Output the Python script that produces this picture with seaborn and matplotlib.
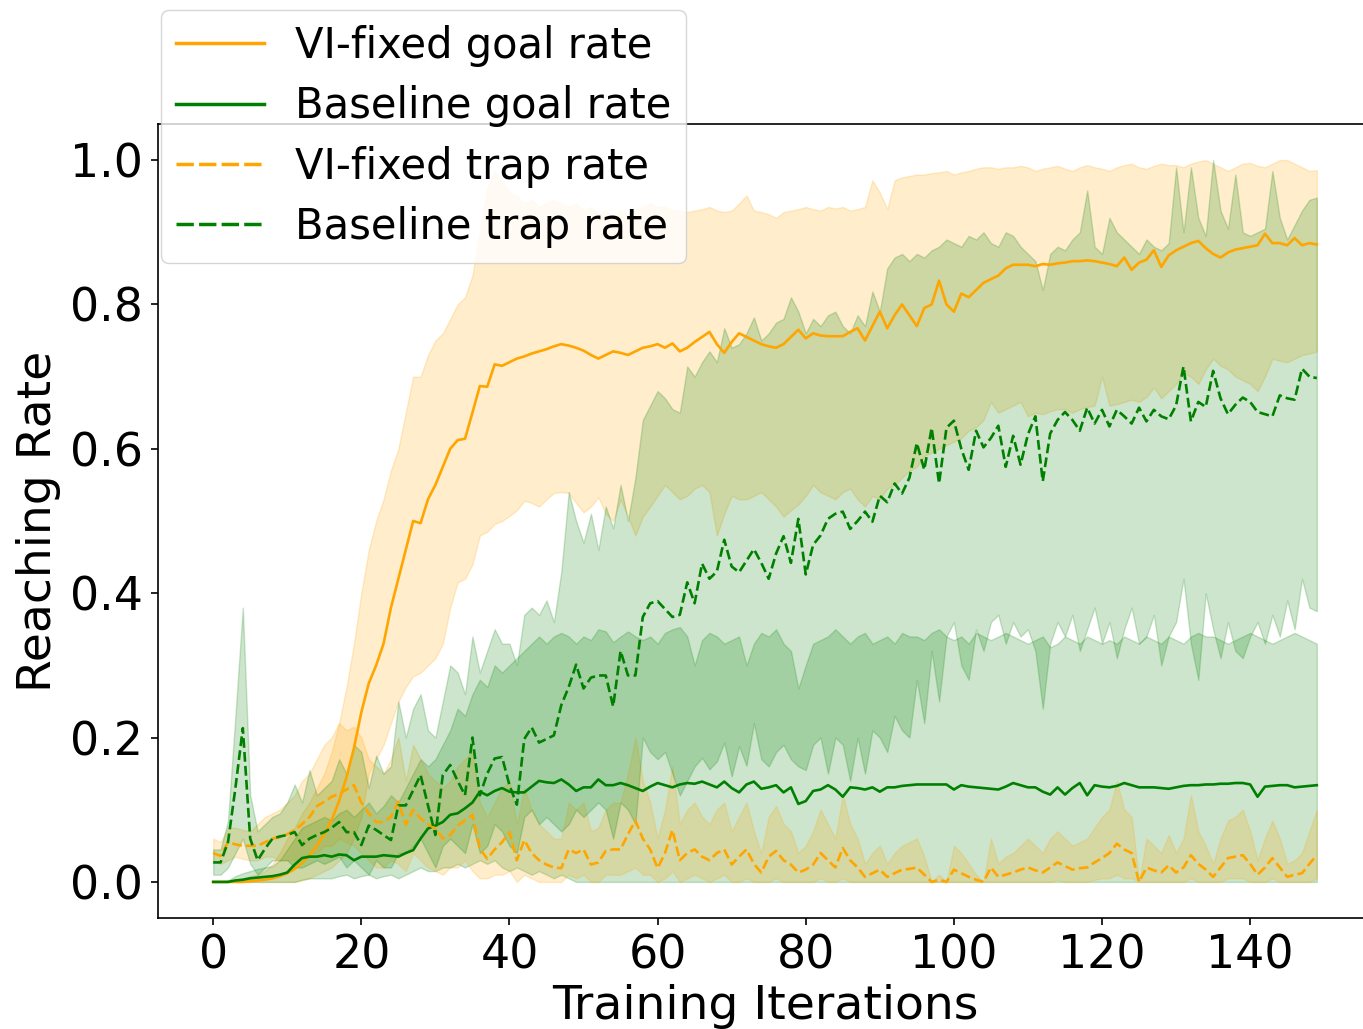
import numpy as np
import pandas as pd
import matplotlib
matplotlib.use("Agg")
import matplotlib.pyplot as plt
import seaborn as sns
from matplotlib.lines import Line2D

iterations = list(range(150))

vi_goal = [
    0.000, 0.000, 0.000, 0.000, 0.000, 0.001, 0.002, 0.003, 0.005, 0.008,
    0.012, 0.018, 0.026, 0.036, 0.050, 0.066, 0.086, 0.112, 0.145, 0.185,
    0.235, 0.275, 0.300, 0.330, 0.380, 0.420, 0.460, 0.500, 0.497, 0.530,
    0.550, 0.575, 0.600, 0.612, 0.614, 0.650, 0.687, 0.686, 0.717, 0.715,
    0.720, 0.725, 0.728, 0.732, 0.735, 0.738, 0.742, 0.745, 0.743, 0.740,
    0.736, 0.730, 0.725, 0.730, 0.735, 0.733, 0.730, 0.735, 0.740, 0.742,
    0.745, 0.740, 0.746, 0.735, 0.740, 0.748, 0.755, 0.762, 0.745, 0.733,
    0.748, 0.760, 0.755, 0.750, 0.745, 0.742, 0.740, 0.745, 0.755, 0.765,
    0.753, 0.760, 0.757, 0.756, 0.756, 0.756, 0.762, 0.767, 0.750, 0.770,
    0.790, 0.767, 0.785, 0.800, 0.785, 0.770, 0.795, 0.800, 0.833, 0.800,
    0.790, 0.815, 0.810, 0.820, 0.830, 0.835, 0.840, 0.850, 0.855, 0.855,
    0.855, 0.853, 0.856, 0.855, 0.857, 0.858, 0.860, 0.860, 0.861, 0.860,
    0.858, 0.856, 0.853, 0.865, 0.848, 0.858, 0.862, 0.875, 0.852, 0.868,
    0.875, 0.880, 0.885, 0.888, 0.878, 0.870, 0.865, 0.872, 0.876, 0.878,
    0.880, 0.882, 0.898, 0.885, 0.885, 0.882, 0.892, 0.882, 0.885, 0.883,
]
vi_goal_lo = [
    0.000, 0.000, 0.000, 0.000, 0.000, 0.000, 0.000, 0.000, 0.000, 0.000,
    0.000, 0.000, 0.002, 0.005, 0.010, 0.015, 0.020, 0.030, 0.040, 0.060,
    0.090, 0.150, 0.170, 0.190, 0.220, 0.250, 0.270, 0.285, 0.290, 0.300,
    0.310, 0.330, 0.380, 0.415, 0.420, 0.440, 0.480, 0.485, 0.496, 0.500,
    0.507, 0.515, 0.528, 0.525, 0.520, 0.530, 0.539, 0.540, 0.539, 0.525,
    0.512, 0.520, 0.533, 0.510, 0.500, 0.530, 0.506, 0.480, 0.506, 0.520,
    0.535, 0.550, 0.540, 0.530, 0.535, 0.545, 0.550, 0.540, 0.480, 0.510,
    0.535, 0.530, 0.530, 0.535, 0.540, 0.530, 0.520, 0.506, 0.515, 0.523,
    0.535, 0.550, 0.540, 0.535, 0.530, 0.540, 0.545, 0.530, 0.520, 0.535,
    0.530, 0.545, 0.550, 0.560, 0.570, 0.575, 0.590, 0.595, 0.600, 0.605,
    0.610, 0.615, 0.625, 0.630, 0.640, 0.665, 0.650, 0.655, 0.660, 0.665,
    0.645, 0.650, 0.648, 0.652, 0.655, 0.655, 0.650, 0.655, 0.658, 0.660,
    0.700, 0.660, 0.662, 0.665, 0.668, 0.665, 0.672, 0.685, 0.670, 0.680,
    0.690, 0.705, 0.700, 0.690, 0.710, 0.725, 0.715, 0.710, 0.700, 0.695,
    0.690, 0.680, 0.700, 0.725, 0.722, 0.720, 0.725, 0.730, 0.732, 0.735,
]
vi_goal_hi = [
    0.000, 0.000, 0.000, 0.002, 0.005, 0.008, 0.010, 0.015, 0.025, 0.040,
    0.060, 0.075, 0.095, 0.110, 0.130, 0.150, 0.180, 0.220, 0.270, 0.330,
    0.400, 0.460, 0.500, 0.530, 0.570, 0.600, 0.650, 0.700, 0.700, 0.730,
    0.750, 0.760, 0.780, 0.800, 0.810, 0.840, 0.900, 0.960, 0.985, 0.970,
    0.955, 0.950, 0.940, 0.945, 0.935, 0.940, 0.945, 0.940, 0.935, 0.940,
    0.930, 0.935, 0.925, 0.930, 0.920, 0.930, 0.925, 0.930, 0.935, 0.940,
    0.935, 0.935, 0.930, 0.930, 0.928, 0.930, 0.932, 0.935, 0.930, 0.928,
    0.930, 0.940, 0.951, 0.930, 0.928, 0.925, 0.920, 0.928, 0.930, 0.932,
    0.935, 0.932, 0.930, 0.935, 0.933, 0.935, 0.930, 0.932, 0.935, 0.972,
    0.955, 0.932, 0.972, 0.976, 0.978, 0.980, 0.980, 0.982, 0.983, 0.985,
    0.980, 0.983, 0.985, 0.988, 0.990, 0.990, 0.988, 0.990, 0.990, 0.992,
    0.990, 0.985, 0.988, 0.990, 0.992, 0.988, 0.985, 0.990, 0.993, 0.990,
    0.988, 0.985, 0.990, 0.993, 0.995, 0.990, 0.988, 0.992, 0.995, 0.993,
    0.993, 0.990, 0.995, 0.998, 1.000, 0.995, 0.990, 0.985, 0.990, 0.995,
    0.996, 0.992, 0.990, 0.995, 1.000, 1.000, 0.995, 0.990, 0.985, 0.986,
]

base_goal = [
    0.000, 0.000, 0.000, 0.002, 0.003, 0.005, 0.006, 0.007, 0.008, 0.010,
    0.013, 0.024, 0.033, 0.035, 0.035, 0.037, 0.035, 0.038, 0.037, 0.030,
    0.035, 0.035, 0.035, 0.037, 0.036, 0.035, 0.040, 0.044, 0.060, 0.074,
    0.078, 0.083, 0.093, 0.095, 0.102, 0.110, 0.125, 0.120, 0.126, 0.130,
    0.125, 0.124, 0.124, 0.132, 0.140, 0.138, 0.137, 0.142, 0.135, 0.126,
    0.131, 0.131, 0.142, 0.134, 0.134, 0.137, 0.134, 0.130, 0.126, 0.132,
    0.137, 0.134, 0.131, 0.135, 0.137, 0.136, 0.139, 0.135, 0.131, 0.139,
    0.130, 0.124, 0.135, 0.139, 0.129, 0.131, 0.134, 0.124, 0.131, 0.108,
    0.112, 0.126, 0.128, 0.134, 0.128, 0.118, 0.131, 0.130, 0.128, 0.131,
    0.125, 0.131, 0.131, 0.133, 0.134, 0.135, 0.135, 0.135, 0.135, 0.135,
    0.128, 0.134, 0.132, 0.131, 0.130, 0.129, 0.128, 0.132, 0.137, 0.134,
    0.131, 0.131, 0.125, 0.121, 0.131, 0.121, 0.130, 0.137, 0.120, 0.134,
    0.132, 0.131, 0.133, 0.137, 0.134, 0.131, 0.131, 0.131, 0.130, 0.129,
    0.131, 0.133, 0.134, 0.134, 0.135, 0.135, 0.136, 0.136, 0.137, 0.137,
    0.135, 0.118, 0.132, 0.133, 0.134, 0.134, 0.131, 0.132, 0.133, 0.134,
]
base_goal_lo = [
    0.000, 0.000, 0.000, 0.000, 0.000, 0.000, 0.000, 0.000, 0.000, 0.000,
    0.000, 0.000, 0.003, 0.005, 0.005, 0.005, 0.005, 0.008, 0.010, 0.005,
    0.008, 0.010, 0.005, 0.008, 0.010, 0.005, 0.010, 0.015, 0.020, 0.015,
    0.015, 0.020, 0.020, 0.025, 0.020, 0.025, 0.030, 0.025, 0.030, 0.020,
    0.015, 0.020, 0.015, 0.010, 0.015, 0.010, 0.005, 0.010, 0.005, 0.000,
    0.000, 0.000, 0.000, 0.000, 0.000, 0.000, 0.000, 0.000, 0.000, 0.000,
    0.000, 0.000, 0.000, 0.000, 0.000, 0.000, 0.000, 0.000, 0.000, 0.000,
    0.000, 0.000, 0.000, 0.000, 0.000, 0.000, 0.000, 0.000, 0.000, 0.000,
    0.000, 0.000, 0.000, 0.000, 0.000, 0.000, 0.000, 0.000, 0.000, 0.000,
    0.000, 0.000, 0.000, 0.000, 0.000, 0.000, 0.000, 0.000, 0.000, 0.000,
    0.000, 0.000, 0.000, 0.000, 0.000, 0.000, 0.000, 0.000, 0.000, 0.000,
    0.000, 0.000, 0.000, 0.000, 0.000, 0.000, 0.000, 0.000, 0.000, 0.000,
    0.000, 0.000, 0.000, 0.000, 0.000, 0.000, 0.000, 0.000, 0.000, 0.000,
    0.000, 0.000, 0.000, 0.000, 0.000, 0.000, 0.000, 0.000, 0.000, 0.000,
    0.000, 0.000, 0.000, 0.000, 0.000, 0.000, 0.000, 0.000, 0.000, 0.000,
]
base_goal_hi = [
    0.000, 0.000, 0.002, 0.008, 0.012, 0.015, 0.018, 0.020, 0.022, 0.030,
    0.045, 0.060, 0.075, 0.080, 0.085, 0.090, 0.085, 0.095, 0.100, 0.090,
    0.100, 0.110, 0.095, 0.105, 0.120, 0.110, 0.130, 0.150, 0.170, 0.160,
    0.170, 0.190, 0.210, 0.240, 0.230, 0.260, 0.280, 0.270, 0.300, 0.290,
    0.300, 0.310, 0.320, 0.330, 0.340, 0.330, 0.340, 0.345, 0.340, 0.330,
    0.340, 0.335, 0.350, 0.347, 0.332, 0.340, 0.347, 0.340, 0.335, 0.340,
    0.330, 0.345, 0.350, 0.353, 0.340, 0.300, 0.335, 0.345, 0.340, 0.330,
    0.335, 0.340, 0.300, 0.330, 0.345, 0.340, 0.350, 0.330, 0.320, 0.268,
    0.300, 0.330, 0.335, 0.340, 0.350, 0.340, 0.330, 0.340, 0.345, 0.330,
    0.335, 0.340, 0.330, 0.345, 0.340, 0.340, 0.335, 0.345, 0.350, 0.340,
    0.335, 0.340, 0.330, 0.345, 0.340, 0.335, 0.340, 0.345, 0.340, 0.335,
    0.330, 0.335, 0.340, 0.325, 0.330, 0.340, 0.335, 0.330, 0.340, 0.335,
    0.330, 0.335, 0.330, 0.340, 0.335, 0.330, 0.340, 0.335, 0.330, 0.340,
    0.335, 0.330, 0.340, 0.345, 0.340, 0.340, 0.335, 0.330, 0.335, 0.340,
    0.345, 0.340, 0.335, 0.330, 0.335, 0.340, 0.345, 0.340, 0.335, 0.330,
]

vi_trap = [
    0.040, 0.036, 0.055, 0.052, 0.050, 0.050, 0.050, 0.055, 0.060, 0.062,
    0.066, 0.072, 0.080, 0.090, 0.105, 0.111, 0.118, 0.122, 0.128, 0.134,
    0.110, 0.095, 0.083, 0.083, 0.090, 0.111, 0.079, 0.100, 0.088, 0.080,
    0.074, 0.060, 0.065, 0.078, 0.085, 0.093, 0.046, 0.032, 0.045, 0.055,
    0.069, 0.030, 0.058, 0.040, 0.030, 0.024, 0.020, 0.019, 0.045, 0.040,
    0.045, 0.024, 0.027, 0.043, 0.045, 0.045, 0.066, 0.085, 0.060, 0.045,
    0.019, 0.040, 0.072, 0.030, 0.040, 0.045, 0.035, 0.030, 0.040, 0.045,
    0.024, 0.035, 0.045, 0.025, 0.013, 0.035, 0.043, 0.030, 0.024, 0.013,
    0.017, 0.024, 0.040, 0.030, 0.020, 0.047, 0.030, 0.020, 0.007, 0.012,
    0.017, 0.007, 0.012, 0.017, 0.018, 0.020, 0.010, 0.000, 0.003, 0.000,
    0.017, 0.012, 0.007, 0.003, 0.000, 0.020, 0.007, 0.010, 0.013, 0.017,
    0.020, 0.016, 0.013, 0.020, 0.027, 0.022, 0.017, 0.019, 0.020, 0.027,
    0.033, 0.040, 0.053, 0.045, 0.040, 0.000, 0.020, 0.016, 0.013, 0.023,
    0.013, 0.020, 0.037, 0.025, 0.017, 0.007, 0.020, 0.033, 0.035, 0.037,
    0.025, 0.010, 0.020, 0.033, 0.020, 0.007, 0.010, 0.012, 0.025, 0.037,
]
vi_trap_lo = [
    0.030, 0.025, 0.030, 0.035, 0.032, 0.030, 0.030, 0.035, 0.035, 0.030,
    0.030, 0.030, 0.035, 0.040, 0.040, 0.050, 0.050, 0.060, 0.055, 0.050,
    0.040, 0.030, 0.020, 0.020, 0.030, 0.025, 0.015, 0.040, 0.030, 0.020,
    0.015, 0.010, 0.020, 0.020, 0.030, 0.015, 0.005, 0.005, 0.010, 0.010,
    0.015, 0.000, 0.010, 0.005, 0.000, 0.000, 0.000, 0.000, 0.010, 0.005,
    0.010, 0.000, 0.000, 0.010, 0.010, 0.010, 0.015, 0.020, 0.010, 0.010,
    0.000, 0.005, 0.015, 0.000, 0.005, 0.010, 0.005, 0.000, 0.005, 0.010,
    0.000, 0.000, 0.005, 0.000, 0.000, 0.000, 0.005, 0.000, 0.000, 0.000,
    0.000, 0.000, 0.005, 0.000, 0.000, 0.005, 0.000, 0.000, 0.000, 0.000,
    0.000, 0.000, 0.000, 0.000, 0.000, 0.000, 0.000, 0.000, 0.000, 0.000,
    0.000, 0.000, 0.000, 0.000, 0.000, 0.000, 0.000, 0.000, 0.000, 0.000,
    0.000, 0.000, 0.000, 0.000, 0.003, 0.000, 0.000, 0.000, 0.000, 0.003,
    0.005, 0.005, 0.010, 0.005, 0.005, 0.000, 0.000, 0.000, 0.000, 0.000,
    0.000, 0.000, 0.005, 0.000, 0.000, 0.000, 0.000, 0.005, 0.005, 0.005,
    0.000, 0.000, 0.000, 0.005, 0.000, 0.000, 0.000, 0.000, 0.000, 0.005,
]
vi_trap_hi = [
    0.060, 0.055, 0.075, 0.075, 0.072, 0.070, 0.080, 0.090, 0.095, 0.100,
    0.110, 0.120, 0.140, 0.150, 0.170, 0.190, 0.200, 0.220, 0.210, 0.215,
    0.200, 0.170, 0.160, 0.150, 0.170, 0.200, 0.140, 0.190, 0.170, 0.150,
    0.140, 0.130, 0.140, 0.160, 0.170, 0.180, 0.110, 0.090, 0.110, 0.130,
    0.140, 0.080, 0.130, 0.100, 0.080, 0.070, 0.060, 0.060, 0.110, 0.100,
    0.110, 0.070, 0.075, 0.100, 0.110, 0.110, 0.150, 0.200, 0.140, 0.110,
    0.060, 0.100, 0.160, 0.080, 0.100, 0.110, 0.090, 0.080, 0.100, 0.110,
    0.070, 0.090, 0.110, 0.070, 0.040, 0.090, 0.105, 0.080, 0.070, 0.040,
    0.050, 0.070, 0.100, 0.080, 0.060, 0.120, 0.080, 0.060, 0.025, 0.040,
    0.050, 0.025, 0.040, 0.050, 0.055, 0.060, 0.035, 0.000, 0.010, 0.000,
    0.050, 0.040, 0.025, 0.010, 0.000, 0.060, 0.025, 0.035, 0.040, 0.050,
    0.060, 0.050, 0.040, 0.060, 0.070, 0.060, 0.050, 0.055, 0.060, 0.075,
    0.090, 0.100, 0.140, 0.100, 0.090, 0.000, 0.060, 0.050, 0.040, 0.065,
    0.040, 0.060, 0.120, 0.070, 0.050, 0.025, 0.060, 0.085, 0.090, 0.100,
    0.070, 0.030, 0.060, 0.085, 0.060, 0.025, 0.030, 0.040, 0.070, 0.100,
]

base_trap = [
    0.027, 0.027, 0.055, 0.130, 0.213, 0.060, 0.030, 0.046, 0.060, 0.063,
    0.065, 0.069, 0.051, 0.060, 0.065, 0.069, 0.075, 0.083, 0.069, 0.069,
    0.051, 0.078, 0.072, 0.065, 0.058, 0.106, 0.106, 0.127, 0.148, 0.106,
    0.065, 0.148, 0.162, 0.140, 0.120, 0.200, 0.120, 0.150, 0.171, 0.173,
    0.134, 0.107, 0.198, 0.214, 0.193, 0.198, 0.203, 0.245, 0.270, 0.301,
    0.268, 0.283, 0.286, 0.286, 0.243, 0.320, 0.286, 0.286, 0.367, 0.386,
    0.389, 0.378, 0.367, 0.370, 0.415, 0.386, 0.441, 0.420, 0.430, 0.474,
    0.437, 0.429, 0.445, 0.461, 0.442, 0.420, 0.455, 0.479, 0.442, 0.503,
    0.426, 0.467, 0.480, 0.503, 0.510, 0.513, 0.489, 0.500, 0.513, 0.499,
    0.535, 0.526, 0.552, 0.538, 0.560, 0.608, 0.571, 0.629, 0.552, 0.629,
    0.639, 0.600, 0.571, 0.625, 0.602, 0.615, 0.632, 0.575, 0.618, 0.578,
    0.620, 0.645, 0.555, 0.621, 0.640, 0.651, 0.640, 0.625, 0.657, 0.635,
    0.654, 0.631, 0.654, 0.645, 0.635, 0.657, 0.638, 0.654, 0.645, 0.641,
    0.660, 0.714, 0.638, 0.665, 0.658, 0.708, 0.670, 0.648, 0.661, 0.671,
    0.665, 0.651, 0.648, 0.645, 0.674, 0.670, 0.668, 0.711, 0.700, 0.698,
]
base_trap_lo = [
    0.010, 0.010, 0.020, 0.040, 0.060, 0.025, 0.010, 0.020, 0.030, 0.030,
    0.030, 0.020, 0.020, 0.025, 0.030, 0.025, 0.030, 0.035, 0.020, 0.030,
    0.020, 0.010, 0.030, 0.020, 0.020, 0.040, 0.040, 0.050, 0.060, 0.040,
    0.020, 0.050, 0.060, 0.050, 0.040, 0.080, 0.040, 0.050, 0.080, 0.070,
    0.050, 0.040, 0.090, 0.100, 0.080, 0.090, 0.080, 0.070, 0.080, 0.100,
    0.090, 0.100, 0.110, 0.100, 0.060, 0.110, 0.100, 0.080, 0.200, 0.180,
    0.170, 0.180, 0.150, 0.120, 0.140, 0.160, 0.172, 0.156, 0.167, 0.193,
    0.146, 0.188, 0.161, 0.220, 0.170, 0.160, 0.180, 0.190, 0.170, 0.160,
    0.155, 0.190, 0.200, 0.150, 0.200, 0.190, 0.140, 0.200, 0.150, 0.210,
    0.200, 0.180, 0.230, 0.210, 0.200, 0.280, 0.220, 0.320, 0.250, 0.340,
    0.360, 0.300, 0.280, 0.350, 0.320, 0.360, 0.370, 0.330, 0.360, 0.340,
    0.350, 0.320, 0.240, 0.330, 0.360, 0.340, 0.370, 0.320, 0.350, 0.380,
    0.330, 0.360, 0.310, 0.350, 0.380, 0.330, 0.340, 0.370, 0.300, 0.340,
    0.360, 0.420, 0.330, 0.280, 0.400, 0.350, 0.310, 0.360, 0.320, 0.310,
    0.340, 0.360, 0.330, 0.370, 0.340, 0.390, 0.350, 0.420, 0.380, 0.375,
]
base_trap_hi = [
    0.045, 0.045, 0.085, 0.230, 0.380, 0.120, 0.070, 0.080, 0.090, 0.095,
    0.110, 0.135, 0.110, 0.155, 0.120, 0.130, 0.140, 0.170, 0.150, 0.190,
    0.180, 0.130, 0.175, 0.150, 0.160, 0.250, 0.200, 0.240, 0.260, 0.210,
    0.200, 0.250, 0.300, 0.290, 0.260, 0.340, 0.290, 0.320, 0.350, 0.330,
    0.330, 0.300, 0.370, 0.380, 0.370, 0.390, 0.360, 0.430, 0.540, 0.500,
    0.470, 0.510, 0.460, 0.520, 0.490, 0.550, 0.500, 0.560, 0.640, 0.660,
    0.680, 0.670, 0.655, 0.650, 0.714, 0.700, 0.720, 0.735, 0.720, 0.767,
    0.740, 0.745, 0.760, 0.782, 0.750, 0.760, 0.775, 0.780, 0.810, 0.790,
    0.760, 0.780, 0.770, 0.785, 0.790, 0.770, 0.760, 0.785, 0.770, 0.818,
    0.790, 0.850, 0.865, 0.870, 0.860, 0.870, 0.865, 0.875, 0.880, 0.890,
    0.885, 0.880, 0.895, 0.890, 0.900, 0.885, 0.880, 0.900, 0.895, 0.880,
    0.870, 0.860, 0.820, 0.870, 0.880, 0.875, 0.890, 0.900, 0.958, 0.880,
    0.870, 0.920, 0.900, 0.890, 0.880, 0.870, 0.890, 0.880, 0.875, 0.885,
    0.990, 0.900, 0.990, 0.920, 0.895, 1.000, 0.930, 0.905, 0.980, 0.900,
    0.895, 0.900, 0.905, 0.985, 0.920, 0.890, 0.910, 0.930, 0.945, 0.948,
]

labels = ["VI-fixed goal rate", "Baseline goal rate",
          "VI-fixed trap rate", "Baseline trap rate"]
colors = ["orange", "green", "orange", "green"]
styles = ["-", "-", "--", "--"]

plt.rcParams.update({
    "axes.linewidth": 1.2,
    "xtick.major.width": 1.2,
    "ytick.major.width": 1.2,
    "xtick.major.size": 5,
    "ytick.major.size": 5,
    "xtick.major.pad": 6,
    "ytick.major.pad": 6,
})

fig = plt.figure(figsize=(13.63, 10.29), dpi=100)
ax = fig.add_axes([158 / 1363, 111 / 1029, 1214 / 1363, 794 / 1029])

series = [
    (vi_goal, vi_goal_lo, vi_goal_hi),
    (base_goal, base_goal_lo, base_goal_hi),
    (vi_trap, vi_trap_lo, vi_trap_hi),
    (base_trap, base_trap_lo, base_trap_hi),
]

frames = []
for (mean, lo, hi), lab in zip(series, labels):
    frames.append(pd.DataFrame({"iteration": iterations, "rate": mean,
                                "lo": lo, "hi": hi, "series": lab}))
df = pd.concat(frames, ignore_index=True)

for lab, col, ls in zip(labels, colors, styles):
    sub = df[df["series"] == lab]
    ax.fill_between(sub["iteration"], sub["lo"], sub["hi"],
                    color=col, alpha=0.2)
    sns.lineplot(data=sub, x="iteration", y="rate", ax=ax, color=col,
                 linestyle=ls, linewidth=1.9, errorbar=None)

ax.set_xlim(-7.45, 156.45)
ax.set_ylim(-0.05, 1.05)
ax.set_xticks([0, 20, 40, 60, 80, 100, 120, 140])
ax.set_yticks([0.0, 0.2, 0.4, 0.6, 0.8, 1.0])
ax.set_yticklabels(["0.0", "0.2", "0.4", "0.6", "0.8", "1.0"])
ax.tick_params(labelsize=33)
ax.set_xlabel("Training Iterations", fontsize=34, labelpad=4)
ax.set_ylabel("Reaching Rate", fontsize=34, labelpad=6)

handles = [Line2D([], [], color=c, linestyle=s, linewidth=2.5,
                  dashes=(5, 1.5) if s == "--" else (None, None))
           for c, s in zip(colors, styles)]
ax.legend(handles, labels, loc="upper left",
          bbox_to_anchor=(0.0025, 1.1436), borderaxespad=0,
          fontsize=30, labelspacing=0.44, borderpad=0.36,
          handlelength=2.1, handletextpad=0.75)

fig.savefig("out.png", dpi=100)
